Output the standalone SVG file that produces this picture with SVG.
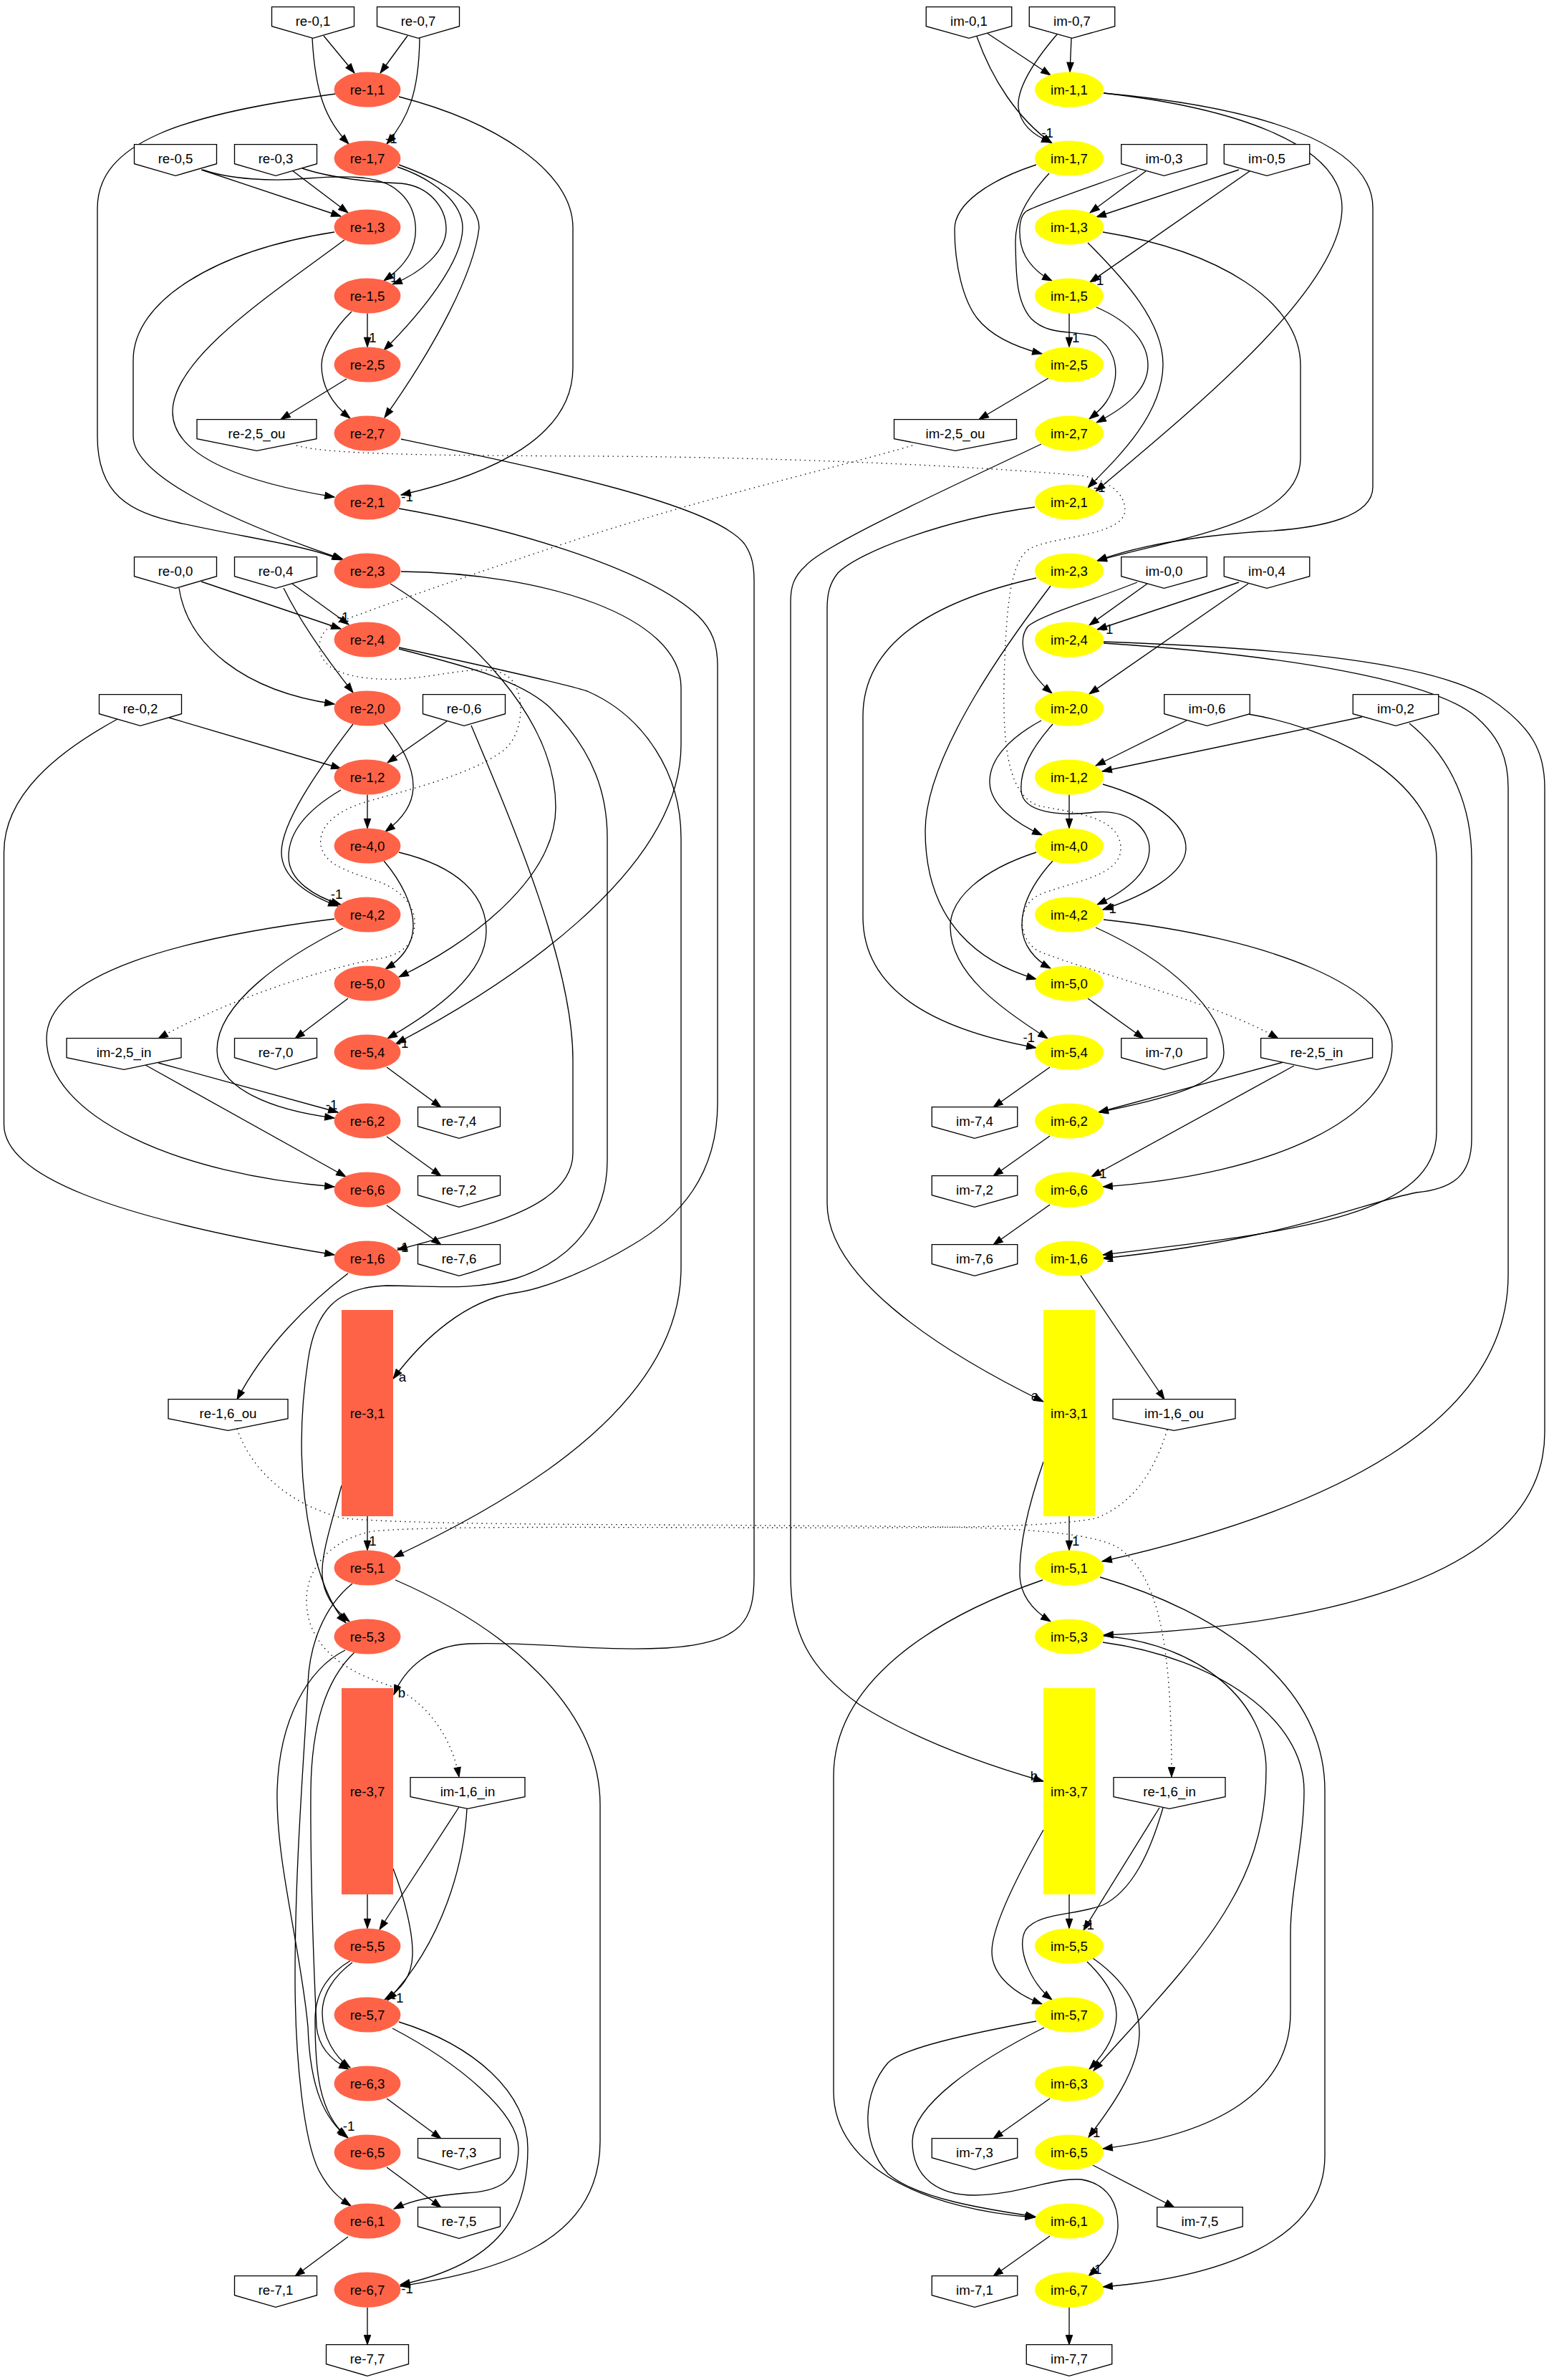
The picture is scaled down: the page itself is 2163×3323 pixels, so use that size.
<svg xmlns="http://www.w3.org/2000/svg" xmlns:xlink="http://www.w3.org/1999/xlink" width="2163" height="3323" viewBox="0 0 2163 3323">
<style>
.e{fill:none;stroke:#000;stroke-width:1.33;marker-end:url(#ah)}
.d{fill:none;stroke:#000;stroke-width:1.33;stroke-dasharray:1.4 5.3;marker-end:url(#ah)}
.bx{fill:#fff;stroke:#000;stroke-width:1.33}
.re{fill:#ff6347}
.im{fill:#ffff00}
text{font-family:"Liberation Sans",Arial,Helvetica,sans-serif;font-size:18.67px;text-anchor:middle;fill:#000}
</style>
<defs>
<marker id="ah" viewBox="-1 -1 15.3 11.4" refX="13.3" refY="4.7" markerWidth="15.3" markerHeight="11.4" markerUnits="userSpaceOnUse" orient="auto"><path d="M0,0L13.3,4.7L0,9.4Z" fill="#000" stroke="#000" stroke-width="1"/></marker>
<path id="p57" d="M-57.5,-19.3H57.5V7.7L0,24.4L-57.5,7.7Z"/>
<path id="p60" d="M-59.75,-19.3H59.75V7.7L0,24.4L-59.75,7.7Z"/>
<path id="p78" d="M-78,-19.3H78V7.7L0,24.4L-78,7.7Z"/>
<path id="p80" d="M-80,-19.3H80V7.7L0,24.4L-80,7.7Z"/>
<path id="p83" d="M-83.5,-19.3H83.5V7.7L0,24.4L-83.5,7.7Z"/>
<path id="p85" d="M-85.5,-19.3H85.5V7.7L0,24.4L-85.5,7.7Z"/>
</defs>
<rect width="2163" height="3323" fill="#fff"/>
<g id="connectors">
<g id="edge-labels">
<text x="546.4" y="199.7">-1</text>
<text x="547" y="393.7">-1</text>
<text x="517.4" y="477.7">-1</text>
<text x="568.6" y="699.7">-1</text>
<text x="479" y="867.7">-1</text>
<text x="470" y="1254.7">-1</text>
<text x="562" y="1462.7">-1</text>
<text x="463" y="1548.7">-1</text>
<text x="562" y="1747.7">-1</text>
<text x="562" y="1929.3">a</text>
<text x="517.4" y="2157.7">-1</text>
<text x="561" y="2369.7">b</text>
<text x="555" y="2795.7">-1</text>
<text x="487" y="2974.7">-1</text>
<text x="568.6" y="3201.7">-1</text>
<text x="1462.6" y="191.7">-1</text>
<text x="1533" y="397.7">-1</text>
<text x="1499" y="477.7">-1</text>
<text x="1535" y="686.7">-1</text>
<text x="1546" y="884.7">-1</text>
<text x="1550.5" y="1274.7">-1</text>
<text x="1436.7" y="1454.7">-1</text>
<text x="1537" y="1644.7">-1</text>
<text x="1547" y="1761.7">-1</text>
<text x="1445" y="1955">a</text>
<text x="1499" y="2157.7">-1</text>
<text x="1444" y="2486">b</text>
<text x="1519.5" y="2693.7">-1</text>
<text x="1528" y="2983.7">-1</text>
<text x="1530" y="3174.7">-1</text>
</g>
<path class="e" d="M452,50 L495,102"/>
<path class="e" d="M569,50 L531,102"/>
<path class="e" d="M436,53 C440,130 455,168 487,201"/>
<path class="e" d="M586,53 C585,130 570,165 540,201"/>
<path class="e" d="M469,131 C250,160 136,200 136,291 L136,609 C136,690 180,715 250,730 C350,752 430,762 477,782"/>
<path class="e" d="M557,135 C689,169 800,238 800,318 L800,513 C800,609 689,662 560,691"/>
<path class="e" d="M281,237 L476,302"/>
<path class="e" d="M408,238 L486,297"/>
<path class="e" d="M283,237 C320,250 380,254 430,249 C480,245 530,244 555,266 C585,290 585,330 572,355 C562,372 550,382 536,392"/>
<path class="e" d="M422,235 C460,248 520,255 560,256 C600,260 623,290 623,320 C623,350 590,380 548,397"/>
<path class="e" d="M555,233 C610,252 646,285 646,318 C646,365 590,435 536,489"/>
<path class="e" d="M557,230 C640,260 669,290 669,318 C662,380 610,480 537,583"/>
<path class="e" d="M467,324 C300,350 186,420 186,503 L186,609 C186,660 300,720 479,781"/>
<path class="e" d="M481,335 C380,410 241,500 241,575 C241,640 350,675 467,694"/>
<path class="e" d="M513,437.5 L513,484.5"/>
<path class="e" d="M491,435 C465,460 449,490 449,510 C449,540 465,565 489,584"/>
<path class="e" d="M484,529 L392,585.5"/>
<path class="e" d="M560,613 C760,655 1000,705 1040,760 C1050,775 1053,790 1053,810 L1053,2200 C1053,2260 1040,2294 931,2301 C827,2306 758,2292 655,2295 C600,2297 565,2330 550,2366"/>
<path class="e" d="M557,710 C700,735 900,790 975,860 C995,880 1002,900 1002,930 L1002,1540 C1002,1640 950,1700 880,1740 C830,1770 760,1800 720,1805 C650,1815 590,1870 549,1925"/>
<path class="e" d="M560,798 C760,800 951,860 951,960 L951,1040 C951,1220 700,1380 553,1457"/>
<path class="e" d="M545,815 C650,880 776,1000 776,1127 C776,1230 650,1320 557,1364"/>
<path class="e" d="M281,812 L476,878"/>
<path class="e" d="M408,815 L487,872"/>
<path class="e" d="M250,821 C262,900 340,965 467,983"/>
<path class="e" d="M396,821 C420,870 460,925 493,967"/>
<path class="e" d="M236,1002 L476,1073"/>
<path class="e" d="M164,1004 C80,1050 5.5,1110 5.5,1190 L5.5,1570 C5.5,1640 150,1700 467,1752"/>
<path class="e" d="M624,1007 L541,1065"/>
<path class="e" d="M658,1013 C720,1160 800,1350 800,1480 L800,1610 C800,1690 660,1715 555,1745"/>
<path class="e" d="M493,1011 C440,1080 393,1150 393,1190 C393,1225 430,1250 472,1265"/>
<path class="e" d="M476,1103 C430,1130 403,1160 403,1196 C403,1230 440,1252 476,1263"/>
<path class="e" d="M536,1010 C560,1040 578,1070 577,1100 C576,1125 560,1145 538,1161"/>
<path class="e" d="M513,1109.5 L513,1156.5"/>
<path class="e" d="M536,1202 C560,1230 578,1265 577,1295 C576,1320 560,1340 538,1353"/>
<path class="e" d="M557,1190 C640,1210 679,1250 679,1300 C679,1360 610,1410 541,1450"/>
<path class="e" d="M486,1394 L412,1450"/>
<path class="e" d="M467,1283 C250,1310 65,1360 65,1450 C65,1560 250,1640 467,1657"/>
<path class="e" d="M479,1296 C400,1335 303,1400 303,1466 C303,1520 380,1550 467,1561"/>
<path class="e" d="M221,1484 L472,1553"/>
<path class="e" d="M203,1487 L483,1643"/>
<path class="e" d="M540,1490 L616,1546"/>
<path class="e" d="M540,1587 L616,1642"/>
<path class="e" d="M540,1683 L616,1738"/>
<path class="e" d="M486,1778 C430,1820 370,1880 331,1954"/>
<path class="e" d="M513,2117 L513,2164.5"/>
<path class="e" d="M477,2074 C465,2120 448,2170 450,2200 C452,2230 470,2250 488,2264"/>
<path class="e" d="M557,904 C700,935 790,955 820,965 C900,1000 951,1080 951,1170 L951,1770 C951,1950 750,2080 550,2174"/>
<path class="e" d="M557,906 C650,930 730,950 770,990 C830,1050 848,1110 848,1170 L848,1620 C848,1700 800,1760 720,1785 C660,1803 600,1795 540,1795 C470,1797 440,1830 430,1900 C415,2000 420,2080 435,2150 C445,2200 460,2240 483,2266"/>
<path class="e" d="M492,2211 C450,2245 432,2300 430,2350 C425,2450 412,2600 412,2760 C412,2880 425,2990 445,3030 C458,3055 472,3068 490,3080"/>
<path class="e" d="M482,2304 C430,2330 390,2400 387,2500 C385,2600 420,2720 430,2830 C433,2920 455,2960 486,2985"/>
<path class="e" d="M495,2307 C460,2340 435,2400 434,2500 C433,2650 440,2780 442,2830 C445,2860 465,2878 487,2889"/>
<path class="e" d="M492,2740 C465,2760 450,2785 450,2810 C450,2845 468,2872 489,2887"/>
<path class="e" d="M490,2737 C460,2755 440,2780 440,2820 C440,2890 445,2950 484,2983"/>
<path class="e" d="M513,2645 L513,2692.5"/>
<path class="e" d="M549,2609 C565,2650 577,2700 576,2730 C575,2760 560,2778 537,2792"/>
<path class="e" d="M641,2523 L530,2694"/>
<path class="e" d="M652,2525 C648,2600 620,2710 541,2793"/>
<path class="e" d="M548,2832 C640,2880 724,2950 724,3000 C724,3050 690,3060 650,3062 C610,3065 575,3072 550,3084"/>
<path class="e" d="M557,2823 C660,2855 737,2920 737,3000 C737,3090 700,3160 559,3190"/>
<path class="e" d="M552,2206 C700,2270 838,2380 838,2520 L838,2990 C838,3130 700,3170 559,3192"/>
<path class="e" d="M540,2930 L616,2986"/>
<path class="e" d="M540,3026 L616,3082"/>
<path class="e" d="M486,3123 L412,3178"/>
<path class="e" d="M513,3221.5 L513,3273.7"/>
<path class="e" d="M1378,46 L1467,105"/>
<path class="e" d="M1496,53 L1494,100.5"/>
<path class="e" d="M1364,51 C1385,110 1420,165 1469,200"/>
<path class="e" d="M1476,48 C1440,90 1420,125 1422,150 C1425,175 1445,190 1468,199"/>
<path class="e" d="M1541,130 C1720,150 1874,200 1874,290 C1874,400 1680,560 1530,686"/>
<path class="e" d="M1541,130 C1760,150 1917,200 1917,290 L1917,680 C1917,720 1850,738 1760,742 C1650,750 1580,765 1532,783"/>
<path class="e" d="M1600,239 L1522,297"/>
<path class="e" d="M1730,237 L1531,303"/>
<path class="e" d="M1588,237 C1520,262 1450,285 1433,295 C1420,305 1422,340 1432,358 C1442,375 1455,385 1469,392"/>
<path class="e" d="M1745,239 L1522,394"/>
<path class="e" d="M1447,230 C1380,252 1333,285 1333,320 C1333,370 1345,420 1365,445 C1385,470 1420,485 1455,494"/>
<path class="e" d="M1465,242 C1430,280 1417,310 1418,340 C1419,380 1418,420 1440,445 C1465,470 1500,460 1530,470 C1555,485 1560,510 1557,530 C1553,555 1540,570 1521,585"/>
<path class="e" d="M1493,437.5 L1493,484.5"/>
<path class="e" d="M1531,429 C1580,450 1603,480 1603,510 C1603,545 1570,570 1531,590"/>
<path class="e" d="M1519,339 C1570,390 1625,450 1624,510 C1623,580 1560,640 1519,681"/>
<path class="e" d="M1540,324 C1700,350 1816,420 1816,510 L1816,640 C1816,730 1650,750 1532,783"/>
<path class="e" d="M1464,528 L1367,585.5"/>
<path class="e" d="M1454,620 C1350,670 1150,760 1125,790 C1108,805 1104,820 1104,840 L1104,2200 C1104,2280 1130,2330 1200,2380 C1280,2430 1380,2465 1457,2487"/>
<path class="e" d="M1445,708 C1320,725 1200,770 1170,800 C1158,815 1155,830 1155,850 L1155,1680 C1155,1780 1300,1880 1457,1957"/>
<path class="e" d="M1447,807 C1300,840 1205,900 1205,1000 L1205,1280 C1205,1390 1320,1440 1447,1463"/>
<path class="e" d="M1467,818 C1420,880 1292,1050 1292,1160 C1292,1290 1370,1345 1447,1367"/>
<path class="e" d="M1602,815 L1521,873"/>
<path class="e" d="M1730,813 L1532,879"/>
<path class="e" d="M1588,813 C1520,840 1450,860 1435,875 C1420,895 1430,935 1469,968"/>
<path class="e" d="M1743,815 L1521,969"/>
<path class="e" d="M1541,898 C1800,915 2000,950 2060,1000 C2095,1030 2106,1060 2106,1100 L2106,1780 C2106,1990 1850,2110 1539,2180"/>
<path class="e" d="M1541,896 C1800,905 2000,925 2080,975 C2140,1015 2157,1050 2157,1100 L2157,2000 C2157,2200 1850,2270 1541,2283"/>
<path class="e" d="M1657,1006 L1530,1069"/>
<path class="e" d="M1902,1001 L1539,1077"/>
<path class="e" d="M1743,997 C1880,1020 2006,1100 2006,1200 L2006,1580 C2006,1700 1800,1720 1540,1752"/>
<path class="e" d="M1968,1010 C2030,1060 2055,1130 2055,1200 L2055,1590 C2055,1640 2030,1660 1978,1665 C1900,1680 1800,1730 1540,1757"/>
<path class="e" d="M1454,1006 C1410,1030 1381,1060 1382,1093 C1383,1125 1420,1150 1455,1166"/>
<path class="e" d="M1470,1011 C1440,1045 1424,1075 1426,1104 C1428,1135 1480,1140 1530,1134 C1580,1130 1605,1160 1605,1185 C1605,1220 1570,1245 1532,1263"/>
<path class="e" d="M1493,1109.5 L1493,1156.5"/>
<path class="e" d="M1540,1095 C1610,1115 1657,1150 1656,1185 C1655,1220 1600,1250 1540,1270"/>
<path class="e" d="M1447,1190 C1370,1215 1326,1255 1327,1295 C1328,1360 1400,1410 1463,1450"/>
<path class="e" d="M1470,1202 C1440,1235 1426,1265 1427,1294 C1428,1320 1445,1340 1467,1352"/>
<path class="e" d="M1541,1284 C1780,1310 1944,1380 1944,1460 C1944,1560 1780,1640 1540,1657"/>
<path class="e" d="M1530,1295 C1630,1340 1709,1410 1709,1470 C1709,1510 1650,1530 1534,1553"/>
<path class="e" d="M1519,1394 L1597,1450"/>
<path class="e" d="M1792,1483 L1534,1553"/>
<path class="e" d="M1807,1488 L1524,1643"/>
<path class="e" d="M1466,1490 L1387,1546"/>
<path class="e" d="M1466,1586 L1387,1642"/>
<path class="e" d="M1466,1682 L1387,1738"/>
<path class="e" d="M1509,1781 L1626,1954"/>
<path class="e" d="M1493,2117 L1493,2164.5"/>
<path class="e" d="M1457,2041 C1440,2090 1423,2150 1424,2200 C1425,2230 1445,2250 1467,2264"/>
<path class="e" d="M1456,2206 C1300,2260 1164,2350 1164,2480 L1164,2920 C1164,3030 1300,3085 1445,3096"/>
<path class="e" d="M1536,2202 C1700,2250 1850,2350 1850,2500 L1850,3010 C1850,3130 1700,3180 1540,3193"/>
<path class="e" d="M1540,2284 C1680,2295 1768,2380 1768,2470 C1768,2560 1740,2620 1716,2660 C1670,2740 1580,2830 1527,2891"/>
<path class="e" d="M1540,2293 C1700,2315 1821,2400 1821,2500 C1821,2570 1802,2640 1802,2700 L1802,2810 C1802,2920 1700,2980 1540,3000"/>
<path class="e" d="M1493,2645 L1493,2692.5"/>
<path class="e" d="M1457,2555 C1420,2620 1385,2690 1385,2725 C1385,2760 1420,2785 1455,2798"/>
<path class="e" d="M1619,2524 L1513,2695"/>
<path class="e" d="M1624,2524 C1605,2590 1580,2640 1540,2660 C1500,2675 1450,2670 1432,2695 C1418,2720 1440,2770 1469,2792"/>
<path class="e" d="M1518,2739 C1545,2765 1560,2790 1559,2815 C1558,2845 1540,2870 1521,2889"/>
<path class="e" d="M1526,2734 C1570,2765 1592,2800 1591,2840 C1590,2890 1550,2945 1520,2984"/>
<path class="e" d="M1447,2822 C1350,2840 1260,2860 1240,2880 C1205,2920 1200,2990 1240,3035 C1280,3070 1380,3085 1446,3095"/>
<path class="e" d="M1458,2831 C1360,2880 1274,2940 1274,2990 C1274,3040 1310,3065 1360,3065 C1420,3065 1470,3040 1510,3043 C1550,3050 1562,3080 1561,3110 C1560,3140 1540,3160 1520,3178"/>
<path class="e" d="M1466,2930 L1387,2986"/>
<path class="e" d="M1526,3023 L1640,3082"/>
<path class="e" d="M1466,3122 L1387,3178"/>
<path class="e" d="M1493,3221.5 L1493,3273.7"/>
<path class="d" d="M414,622 C460,636 650,636 850,637 C1100,639 1350,650 1510,664 C1560,672 1575,700 1570,718 C1560,748 1470,750 1440,765 C1410,780 1405,850 1402,950 C1400,1050 1410,1110 1450,1125 C1500,1135 1565,1140 1565,1185 C1565,1225 1490,1232 1450,1250 C1420,1265 1420,1310 1450,1328 C1530,1360 1700,1400 1785,1450"/>
<path class="d" d="M1274,622 C1180,650 1000,690 800,755 C650,805 520,850 470,870 C440,882 440,915 460,930 C480,945 520,950 560,948 C620,945 690,920 715,950 C735,975 730,1030 700,1050 C650,1085 560,1105 510,1120 C460,1135 445,1160 448,1180 C452,1205 480,1215 520,1228 C560,1240 580,1265 579,1290 C578,1320 560,1335 520,1340 C420,1360 290,1410 221,1450"/>
<path class="d" d="M331,1995 C350,2050 400,2100 480,2120 C600,2130 900,2128 1081,2130 C1300,2132 1500,2128 1560,2160 C1620,2200 1636,2300 1636,2481"/>
<path class="d" d="M1630,1996 C1610,2060 1580,2100 1530,2120 C1450,2135 1250,2133 1081,2133 C850,2133 600,2130 520,2138 C460,2150 430,2190 428,2230 C426,2290 470,2330 540,2352 C590,2370 630,2420 641,2481"/>
</g>
<g id="nodes">
<g id="re-0_1"><use href="#p57" x="437" y="29" class="bx"/><text x="437" y="35.5">re-0,1</text></g>
<g id="re-0_7"><use href="#p57" x="584" y="29" class="bx"/><text x="584" y="35.5">re-0,7</text></g>
<g id="re-0_5"><use href="#p57" x="245" y="221" class="bx"/><text x="245" y="227.5">re-0,5</text></g>
<g id="re-0_3"><use href="#p57" x="385" y="221" class="bx"/><text x="385" y="227.5">re-0,3</text></g>
<g id="re-2_5_ou"><use href="#p83" x="358.5" y="605" class="bx"/><text x="358.5" y="611.5">re-2,5_ou</text></g>
<g id="re-0_0"><use href="#p57" x="245" y="797" class="bx"/><text x="245" y="803.5">re-0,0</text></g>
<g id="re-0_4"><use href="#p57" x="385" y="797" class="bx"/><text x="385" y="803.5">re-0,4</text></g>
<g id="re-0_2"><use href="#p57" x="196" y="989" class="bx"/><text x="196" y="995.5">re-0,2</text></g>
<g id="re-0_6"><use href="#p57" x="648" y="989" class="bx"/><text x="648" y="995.5">re-0,6</text></g>
<g id="im-2_5_in"><use href="#p80" x="173" y="1469" class="bx"/><text x="173" y="1475.5">im-2,5_in</text></g>
<g id="re-7_0"><use href="#p57" x="385" y="1469" class="bx"/><text x="385" y="1475.5">re-7,0</text></g>
<g id="re-7_4"><use href="#p57" x="641" y="1565" class="bx"/><text x="641" y="1571.5">re-7,4</text></g>
<g id="re-7_2"><use href="#p57" x="641" y="1661" class="bx"/><text x="641" y="1667.5">re-7,2</text></g>
<g id="re-7_6"><use href="#p57" x="641" y="1757" class="bx"/><text x="641" y="1763.5">re-7,6</text></g>
<g id="re-1_6_ou"><use href="#p83" x="318.5" y="1973" class="bx"/><text x="318.5" y="1979.5">re-1,6_ou</text></g>
<g id="im-1_6_in"><use href="#p80" x="653" y="2501" class="bx"/><text x="653" y="2507.5">im-1,6_in</text></g>
<g id="re-7_3"><use href="#p57" x="641" y="3005" class="bx"/><text x="641" y="3011.5">re-7,3</text></g>
<g id="re-7_5"><use href="#p57" x="641" y="3101" class="bx"/><text x="641" y="3107.5">re-7,5</text></g>
<g id="re-7_1"><use href="#p57" x="385" y="3197" class="bx"/><text x="385" y="3203.5">re-7,1</text></g>
<g id="re-7_7"><use href="#p57" x="513" y="3293" class="bx"/><text x="513" y="3299.5">re-7,7</text></g>
<g id="re-1_1"><ellipse class="re" cx="513" cy="125" rx="46.5" ry="24.5"/><text x="513" y="131.5">re-1,1</text></g>
<g id="re-1_7"><ellipse class="re" cx="513" cy="221" rx="46.5" ry="24.5"/><text x="513" y="227.5">re-1,7</text></g>
<g id="re-1_3"><ellipse class="re" cx="513" cy="317" rx="46.5" ry="24.5"/><text x="513" y="323.5">re-1,3</text></g>
<g id="re-1_5"><ellipse class="re" cx="513" cy="413" rx="46.5" ry="24.5"/><text x="513" y="419.5">re-1,5</text></g>
<g id="re-2_5"><ellipse class="re" cx="513" cy="509" rx="46.5" ry="24.5"/><text x="513" y="515.5">re-2,5</text></g>
<g id="re-2_7"><ellipse class="re" cx="513" cy="605" rx="46.5" ry="24.5"/><text x="513" y="611.5">re-2,7</text></g>
<g id="re-2_1"><ellipse class="re" cx="513" cy="701" rx="46.5" ry="24.5"/><text x="513" y="707.5">re-2,1</text></g>
<g id="re-2_3"><ellipse class="re" cx="513" cy="797" rx="46.5" ry="24.5"/><text x="513" y="803.5">re-2,3</text></g>
<g id="re-2_4"><ellipse class="re" cx="513" cy="893" rx="46.5" ry="24.5"/><text x="513" y="899.5">re-2,4</text></g>
<g id="re-2_0"><ellipse class="re" cx="513" cy="989" rx="46.5" ry="24.5"/><text x="513" y="995.5">re-2,0</text></g>
<g id="re-1_2"><ellipse class="re" cx="513" cy="1085" rx="46.5" ry="24.5"/><text x="513" y="1091.5">re-1,2</text></g>
<g id="re-4_0"><ellipse class="re" cx="513" cy="1181" rx="46.5" ry="24.5"/><text x="513" y="1187.5">re-4,0</text></g>
<g id="re-4_2"><ellipse class="re" cx="513" cy="1277" rx="46.5" ry="24.5"/><text x="513" y="1283.5">re-4,2</text></g>
<g id="re-5_0"><ellipse class="re" cx="513" cy="1373" rx="46.5" ry="24.5"/><text x="513" y="1379.5">re-5,0</text></g>
<g id="re-5_4"><ellipse class="re" cx="513" cy="1469" rx="46.5" ry="24.5"/><text x="513" y="1475.5">re-5,4</text></g>
<g id="re-6_2"><ellipse class="re" cx="513" cy="1565" rx="46.5" ry="24.5"/><text x="513" y="1571.5">re-6,2</text></g>
<g id="re-6_6"><ellipse class="re" cx="513" cy="1661" rx="46.5" ry="24.5"/><text x="513" y="1667.5">re-6,6</text></g>
<g id="re-1_6"><ellipse class="re" cx="513" cy="1757" rx="46.5" ry="24.5"/><text x="513" y="1763.5">re-1,6</text></g>
<g id="re-3_1"><rect class="re" x="477" y="1829" width="72" height="288"/><text x="513" y="1979.5">re-3,1</text></g>
<g id="re-5_1"><ellipse class="re" cx="513" cy="2189" rx="46.5" ry="24.5"/><text x="513" y="2195.5">re-5,1</text></g>
<g id="re-5_3"><ellipse class="re" cx="513" cy="2285" rx="46.5" ry="24.5"/><text x="513" y="2291.5">re-5,3</text></g>
<g id="re-3_7"><rect class="re" x="477" y="2357" width="72" height="288"/><text x="513" y="2507.5">re-3,7</text></g>
<g id="re-5_5"><ellipse class="re" cx="513" cy="2717" rx="46.5" ry="24.5"/><text x="513" y="2723.5">re-5,5</text></g>
<g id="re-5_7"><ellipse class="re" cx="513" cy="2813" rx="46.5" ry="24.5"/><text x="513" y="2819.5">re-5,7</text></g>
<g id="re-6_3"><ellipse class="re" cx="513" cy="2909" rx="46.5" ry="24.5"/><text x="513" y="2915.5">re-6,3</text></g>
<g id="re-6_5"><ellipse class="re" cx="513" cy="3005" rx="46.5" ry="24.5"/><text x="513" y="3011.5">re-6,5</text></g>
<g id="re-6_1"><ellipse class="re" cx="513" cy="3101" rx="46.5" ry="24.5"/><text x="513" y="3107.5">re-6,1</text></g>
<g id="re-6_7"><ellipse class="re" cx="513" cy="3197" rx="46.5" ry="24.5"/><text x="513" y="3203.5">re-6,7</text></g>
<g id="im-0_1"><use href="#p60" x="1353" y="29" class="bx"/><text x="1353" y="35.5">im-0,1</text></g>
<g id="im-0_7"><use href="#p60" x="1497" y="29" class="bx"/><text x="1497" y="35.5">im-0,7</text></g>
<g id="im-0_3"><use href="#p60" x="1625.5" y="221" class="bx"/><text x="1625.5" y="227.5">im-0,3</text></g>
<g id="im-0_5"><use href="#p60" x="1769" y="221" class="bx"/><text x="1769" y="227.5">im-0,5</text></g>
<g id="im-2_5_ou"><use href="#p85" x="1334" y="605" class="bx"/><text x="1334" y="611.5">im-2,5_ou</text></g>
<g id="im-0_0"><use href="#p60" x="1625.5" y="797" class="bx"/><text x="1625.5" y="803.5">im-0,0</text></g>
<g id="im-0_4"><use href="#p60" x="1769" y="797" class="bx"/><text x="1769" y="803.5">im-0,4</text></g>
<g id="im-0_6"><use href="#p60" x="1685.5" y="989" class="bx"/><text x="1685.5" y="995.5">im-0,6</text></g>
<g id="im-0_2"><use href="#p60" x="1949" y="989" class="bx"/><text x="1949" y="995.5">im-0,2</text></g>
<g id="im-7_0"><use href="#p60" x="1625.5" y="1469" class="bx"/><text x="1625.5" y="1475.5">im-7,0</text></g>
<g id="re-2_5_in"><use href="#p78" x="1838.6" y="1469" class="bx"/><text x="1838.6" y="1475.5">re-2,5_in</text></g>
<g id="im-7_4"><use href="#p60" x="1361" y="1565" class="bx"/><text x="1361" y="1571.5">im-7,4</text></g>
<g id="im-7_2"><use href="#p60" x="1361" y="1661" class="bx"/><text x="1361" y="1667.5">im-7,2</text></g>
<g id="im-7_6"><use href="#p60" x="1361" y="1757" class="bx"/><text x="1361" y="1763.5">im-7,6</text></g>
<g id="im-1_6_ou"><use href="#p85" x="1639.5" y="1973" class="bx"/><text x="1639.5" y="1979.5">im-1,6_ou</text></g>
<g id="re-1_6_in"><use href="#p78" x="1633" y="2501" class="bx"/><text x="1633" y="2507.5">re-1,6_in</text></g>
<g id="im-7_3"><use href="#p60" x="1361" y="3005" class="bx"/><text x="1361" y="3011.5">im-7,3</text></g>
<g id="im-7_5"><use href="#p60" x="1675.5" y="3101" class="bx"/><text x="1675.5" y="3107.5">im-7,5</text></g>
<g id="im-7_1"><use href="#p60" x="1361" y="3197" class="bx"/><text x="1361" y="3203.5">im-7,1</text></g>
<g id="im-7_7"><use href="#p60" x="1493" y="3293" class="bx"/><text x="1493" y="3299.5">im-7,7</text></g>
<g id="im-1_1"><ellipse class="im" cx="1493" cy="125" rx="48" ry="24.5"/><text x="1493" y="131.5">im-1,1</text></g>
<g id="im-1_7"><ellipse class="im" cx="1493" cy="221" rx="48" ry="24.5"/><text x="1493" y="227.5">im-1,7</text></g>
<g id="im-1_3"><ellipse class="im" cx="1493" cy="317" rx="48" ry="24.5"/><text x="1493" y="323.5">im-1,3</text></g>
<g id="im-1_5"><ellipse class="im" cx="1493" cy="413" rx="48" ry="24.5"/><text x="1493" y="419.5">im-1,5</text></g>
<g id="im-2_5"><ellipse class="im" cx="1493" cy="509" rx="48" ry="24.5"/><text x="1493" y="515.5">im-2,5</text></g>
<g id="im-2_7"><ellipse class="im" cx="1493" cy="605" rx="48" ry="24.5"/><text x="1493" y="611.5">im-2,7</text></g>
<g id="im-2_1"><ellipse class="im" cx="1493" cy="701" rx="48" ry="24.5"/><text x="1493" y="707.5">im-2,1</text></g>
<g id="im-2_3"><ellipse class="im" cx="1493" cy="797" rx="48" ry="24.5"/><text x="1493" y="803.5">im-2,3</text></g>
<g id="im-2_4"><ellipse class="im" cx="1493" cy="893" rx="48" ry="24.5"/><text x="1493" y="899.5">im-2,4</text></g>
<g id="im-2_0"><ellipse class="im" cx="1493" cy="989" rx="48" ry="24.5"/><text x="1493" y="995.5">im-2,0</text></g>
<g id="im-1_2"><ellipse class="im" cx="1493" cy="1085" rx="48" ry="24.5"/><text x="1493" y="1091.5">im-1,2</text></g>
<g id="im-4_0"><ellipse class="im" cx="1493" cy="1181" rx="48" ry="24.5"/><text x="1493" y="1187.5">im-4,0</text></g>
<g id="im-4_2"><ellipse class="im" cx="1493" cy="1277" rx="48" ry="24.5"/><text x="1493" y="1283.5">im-4,2</text></g>
<g id="im-5_0"><ellipse class="im" cx="1493" cy="1373" rx="48" ry="24.5"/><text x="1493" y="1379.5">im-5,0</text></g>
<g id="im-5_4"><ellipse class="im" cx="1493" cy="1469" rx="48" ry="24.5"/><text x="1493" y="1475.5">im-5,4</text></g>
<g id="im-6_2"><ellipse class="im" cx="1493" cy="1565" rx="48" ry="24.5"/><text x="1493" y="1571.5">im-6,2</text></g>
<g id="im-6_6"><ellipse class="im" cx="1493" cy="1661" rx="48" ry="24.5"/><text x="1493" y="1667.5">im-6,6</text></g>
<g id="im-1_6"><ellipse class="im" cx="1493" cy="1757" rx="48" ry="24.5"/><text x="1493" y="1763.5">im-1,6</text></g>
<g id="im-3_1"><rect class="im" x="1457" y="1829" width="72" height="288"/><text x="1493" y="1979.5">im-3,1</text></g>
<g id="im-5_1"><ellipse class="im" cx="1493" cy="2189" rx="48" ry="24.5"/><text x="1493" y="2195.5">im-5,1</text></g>
<g id="im-5_3"><ellipse class="im" cx="1493" cy="2285" rx="48" ry="24.5"/><text x="1493" y="2291.5">im-5,3</text></g>
<g id="im-3_7"><rect class="im" x="1457" y="2357" width="72" height="288"/><text x="1493" y="2507.5">im-3,7</text></g>
<g id="im-5_5"><ellipse class="im" cx="1493" cy="2717" rx="48" ry="24.5"/><text x="1493" y="2723.5">im-5,5</text></g>
<g id="im-5_7"><ellipse class="im" cx="1493" cy="2813" rx="48" ry="24.5"/><text x="1493" y="2819.5">im-5,7</text></g>
<g id="im-6_3"><ellipse class="im" cx="1493" cy="2909" rx="48" ry="24.5"/><text x="1493" y="2915.5">im-6,3</text></g>
<g id="im-6_5"><ellipse class="im" cx="1493" cy="3005" rx="48" ry="24.5"/><text x="1493" y="3011.5">im-6,5</text></g>
<g id="im-6_1"><ellipse class="im" cx="1493" cy="3101" rx="48" ry="24.5"/><text x="1493" y="3107.5">im-6,1</text></g>
<g id="im-6_7"><ellipse class="im" cx="1493" cy="3197" rx="48" ry="24.5"/><text x="1493" y="3203.5">im-6,7</text></g>
</g>
</svg>
